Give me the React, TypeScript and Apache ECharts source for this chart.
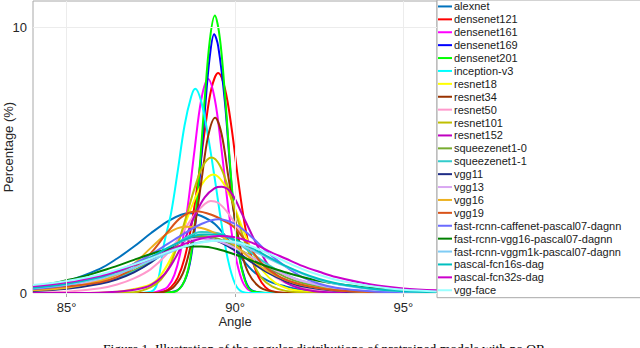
import React, { useEffect, useRef } from "react";
import * as echarts from "echarts";

const seriesNames = [
  "alexnet", "densenet121", "densenet161", "densenet169", "densenet201", "inception-v3",
  "resnet18", "resnet34", "resnet50", "resnet101", "resnet152", "squeezenet1-0",
  "squeezenet1-1", "vgg11", "vgg13", "vgg16", "vgg19", "fast-rcnn-caffenet-pascal07-dagnn",
  "fast-rcnn-vgg16-pascal07-dagnn", "fast-rcnn-vggm1k-pascal07-dagnn", "pascal-fcn16s-dag",
  "pascal-fcn32s-dag", "vgg-face",
];

const seriesColors = [
  "#0072BD", "#FF0000", "#FF00FF", "#0000FF", "#00FF00", "#00FFFF",
  "#FFFF00", "#993300", "#FF99CC", "#BFBF00", "#BF00BF", "#77AC30",
  "#33CCCC", "#1F2D86", "#D9A7F2", "#EDB120", "#D95319", "#6B6BFF",
  "#008000", "#7FCCF5", "#00BFBF", "#CC00CC", "#99FFFF",
];

const xTicks = [85, 90, 95];
const yTicks = [0, 10];

const alexnet = [[84,0.22],[85,0.45],[86,0.92],[86.5,1.3],[87,1.75],[87.5,2.25],[88,2.7],[88.4,2.95],[88.7,3.0],[89.0,2.9],[89.4,2.6],[89.8,2.0],[90.2,1.3],[90.6,0.75],[91,0.45],[91.5,0.25],[92,0.12],[93,0.04],[94,0.01],[96,0]];
const densenet121 = [[84,0],[87.5,0],[87.9,0.07],[88.1,0.22],[88.3,0.58],[88.5,1.3],[88.7,2.5],[88.9,4.2],[89.1,6.1],[89.3,7.7],[89.5,8.29],[89.7,7.7],[89.9,6.2],[90.1,4.2],[90.3,2.5],[90.5,1.3],[90.7,0.6],[90.9,0.22],[91.1,0.07],[91.5,0],[96,0]];
const densenet161 = [[84,0],[87.5,0],[87.8,0.1],[88.0,0.23],[88.2,0.68],[88.4,1.66],[88.6,3.3],[88.8,5.4],[89.0,7.3],[89.2,8.06],[89.4,7.3],[89.6,5.4],[89.8,3.2],[90.0,1.5],[90.2,0.5],[90.4,0.12],[90.7,0],[96,0]];
const densenet169 = [[84,0],[87.5,0],[88.2,0.06],[88.5,0.45],[88.7,1.4],[88.9,3.6],[89.1,6.8],[89.25,8.9],[89.38,9.75],[89.5,9.3],[89.7,7.2],[89.9,4.0],[90.1,1.6],[90.3,0.5],[90.5,0.1],[91,0],[96,0]];
const densenet201 = [[84,0],[87.5,0],[88.2,0.05],[88.5,0.46],[88.7,1.5],[88.9,3.9],[89.1,7.3],[89.25,9.5],[89.4,10.45],[89.55,9.6],[89.7,7.5],[89.9,4.1],[90.1,1.6],[90.3,0.45],[90.5,0.08],[91,0],[96,0]];
const inceptionV3 = [[84,0],[87.0,0],[87.5,0.05],[87.7,0.4],[87.9,1.9],[88.1,3.0],[88.3,4.6],[88.5,6.3],[88.7,7.4],[88.82,7.69],[89.0,7.2],[89.2,5.9],[89.4,4.3],[89.6,2.6],[89.8,1.2],[90.0,0.35],[90.2,0.05],[90.5,0],[96,0]];
const resnet18 = [[84,0],[85.5,0],[86.5,0.05],[87.0,0.15],[87.55,0.36],[87.85,0.77],[88.15,1.45],[88.45,2.37],[88.75,3.37],[89.05,4.16],[89.36,4.46],[89.65,4.15],[89.95,3.35],[90.25,2.35],[90.55,1.45],[90.85,0.8],[91.2,0.38],[91.6,0.15],[92.2,0.04],[93,0],[96,0]];
const resnet34 = [[84,0],[87.5,0],[87.9,0.05],[88.2,0.25],[88.5,0.9],[88.8,2.5],[89.0,4.2],[89.2,5.9],[89.41,6.6],[89.6,6.0],[89.8,4.4],[90.0,2.8],[90.2,1.5],[90.4,0.75],[90.7,0.25],[91.0,0.08],[91.5,0],[96,0]];
const resnet50 = [[84,0.02],[85,0.05],[86,0.18],[86.5,0.32],[87,0.55],[87.5,0.9],[88,1.5],[88.4,2.2],[88.8,2.95],[89.1,3.35],[89.28,3.47],[89.5,3.4],[89.8,3.0],[90.1,2.4],[90.4,1.75],[90.8,1.1],[91.2,0.6],[91.7,0.3],[92.5,0.1],[93.5,0.03],[95,0],[96,0]];
const resnet101 = [[84,0],[86,0],[87.0,0.03],[87.5,0.22],[87.8,0.51],[88.05,1.0],[88.3,1.84],[88.55,2.87],[88.8,3.95],[89.05,4.79],[89.3,5.1],[89.55,4.8],[89.8,3.95],[90.05,2.9],[90.3,1.9],[90.55,1.1],[90.8,0.55],[91.1,0.25],[91.5,0.08],[92.5,0],[96,0]];
const resnet152 = [[84,0],[85.5,0],[86.5,0.05],[87.0,0.12],[87.5,0.3],[87.9,0.7],[88.2,1.26],[88.5,2.0],[88.8,2.9],[89.1,3.6],[89.4,3.95],[89.61,4.0],[89.9,3.75],[90.2,3.0],[90.5,2.2],[90.8,1.45],[91.1,0.85],[91.5,0.4],[92.0,0.15],[92.5,0.05],[93.5,0],[96,0]];
const squeezenet10 = [[84,0.12],[85,0.22],[86,0.42],[86.5,0.6],[87,0.85],[87.5,1.2],[88,1.65],[88.5,2.0],[89,2.15],[89.5,2.05],[90,1.75],[90.5,1.35],[91,0.95],[91.5,0.6],[92,0.38],[93,0.14],[94,0.05],[96,0.01]];
const squeezenet11 = [[84,0.1],[85,0.2],[86,0.38],[86.5,0.55],[87,0.8],[87.5,1.15],[88,1.6],[88.5,2.05],[89,2.3],[89.5,2.25],[90,1.95],[90.5,1.5],[91,1.05],[91.5,0.7],[92,0.45],[93,0.17],[94,0.06],[96,0.01]];
const vgg11 = [[84,0.08],[85,0.16],[86,0.35],[86.5,0.52],[87,0.78],[87.5,1.15],[88,1.65],[88.5,1.98],[89,2.07],[89.5,1.95],[90,1.6],[90.5,1.15],[91,0.75],[91.5,0.45],[92,0.25],[93,0.08],[94,0.02],[96,0]];
const vgg13 = [[84,0.12],[85,0.24],[86,0.48],[86.5,0.68],[87,0.95],[87.5,1.3],[88,1.7],[88.5,1.98],[89,2.05],[89.5,1.95],[90,1.7],[90.5,1.35],[91,0.98],[91.5,0.68],[92,0.45],[93,0.18],[94,0.07],[96,0.01]];
const vgg16 = [[84,0.1],[85,0.2],[86,0.45],[86.5,0.7],[87,1.1],[87.5,1.7],[88,2.25],[88.5,2.5],[89,2.45],[89.5,2.2],[90,1.8],[90.5,1.25],[91,0.8],[91.5,0.5],[92,0.3],[93,0.1],[94,0.03],[96,0]];
const vgg19 = [[84,0.15],[85,0.25],[86,0.4],[86.5,0.6],[87,0.95],[87.5,1.5],[88,2.3],[88.4,2.85],[88.85,3.08],[89.3,2.95],[89.7,2.7],[90.0,2.45],[90.4,1.8],[90.8,1.1],[91.2,0.7],[91.6,0.45],[92.2,0.25],[93,0.1],[94,0.04],[96,0.01]];
const fastRcnnCaffenet = [[84,0.15],[85,0.3],[86,0.6],[87,1.1],[87.5,1.45],[88,1.85],[88.5,2.25],[89,2.6],[89.5,2.78],[90,2.6],[90.5,2.1],[91,1.5],[91.5,1.0],[92,0.6],[92.5,0.35],[93,0.2],[94,0.07],[95,0.02],[96,0.01]];
const fastRcnnVgg16 = [[84,0.25],[84.5,0.35],[85,0.48],[85.5,0.62],[86,0.82],[86.5,1.02],[87,1.25],[87.5,1.47],[88,1.65],[88.5,1.75],[89,1.75],[89.5,1.65],[90,1.45],[90.5,1.22],[91,0.98],[91.5,0.78],[92,0.6],[92.5,0.45],[93,0.35],[93.5,0.27],[94,0.2],[95,0.1],[96,0.05]];
const fastRcnnVggm1k = [[84,0.18],[85,0.32],[86,0.55],[86.5,0.72],[87,0.95],[87.5,1.22],[88,1.5],[88.5,1.75],[89,1.92],[89.5,1.98],[90,1.88],[90.5,1.62],[91,1.3],[91.5,1.0],[92,0.72],[92.5,0.5],[93,0.34],[94,0.15],[95,0.06],[96,0.03]];
const pascalFcn16s = [[84,0.2],[85,0.35],[86,0.6],[86.5,0.8],[87,1.05],[87.5,1.35],[88,1.7],[88.5,2.0],[89,2.2],[89.5,2.2],[90,2.0],[90.5,1.7],[91,1.35],[91.5,1.02],[92,0.75],[92.5,0.53],[93,0.37],[94,0.17],[95,0.07],[96,0.03]];
const pascalFcn32s = [[84,0.25],[85,0.4],[86,0.65],[86.5,0.82],[87,1.05],[87.5,1.3],[88,1.58],[88.5,1.85],[89,2.05],[89.5,2.15],[90,2.1],[90.5,1.9],[91,1.58],[91.5,1.3],[92,1.02],[92.5,0.8],[93,0.6],[94,0.33],[95,0.17],[96,0.1]];
const vggFace = [[84,0.3],[85,0.45],[86,0.7],[86.5,0.88],[87,1.08],[87.5,1.3],[88,1.55],[88.5,1.75],[89,1.9],[89.5,1.98],[90,1.92],[90.5,1.75],[91,1.48],[91.5,1.18],[92,0.9],[92.5,0.68],[93,0.5],[94,0.26],[95,0.12],[96,0.06]];

const seriesValues = [
  alexnet, densenet121, densenet161, densenet169, densenet201, inceptionV3,
  resnet18, resnet34, resnet50, resnet101, resnet152, squeezenet10,
  squeezenet11, vgg11, vgg13, vgg16, vgg19, fastRcnnCaffenet,
  fastRcnnVgg16, fastRcnnVggm1k, pascalFcn16s, pascalFcn32s, vggFace,
];

const caption = "Figure 1. Illustration of the angular distributions of pretrained models with no OR";

const FONT = "Liberation Sans, Arial, Helvetica, sans-serif";

export default function App() {
  const ref = useRef<HTMLDivElement>(null);
  useEffect(() => {
    if (!ref.current) return;
    const chart = echarts.init(ref.current, null, { renderer: "svg" });
    const axisColor = "#a8a8a8";
    const labelColor = "#262626";
    const xBase = {
      type: "value",
      min: 84,
      max: 96,
      interval: 1,
      axisLine: { show: false },
      splitLine: { show: false },
    };
    const yBase = {
      type: "value",
      min: 0,
      max: 11,
      interval: 10,
      axisLine: { show: false },
      splitLine: { show: false },
    };
    const option: any = {
      animation: false,
      backgroundColor: "#ffffff",
      grid: {
        left: 33, top: 1, width: 404, height: 292,
        containLabel: false,
        outerBoundsMode: "none",
        show: true, borderColor: axisColor, borderWidth: 1, backgroundColor: "transparent",
      },
      xAxis: [
        {
          ...xBase,
          position: "bottom",
          axisTick: { show: true, inside: true, length: 4, customValues: xTicks, lineStyle: { color: axisColor } },
          axisLabel: {
            customValues: xTicks,
            formatter: (v: number) => (xTicks.includes(v) ? v + "°" : ""),
            color: labelColor, fontSize: 13, fontFamily: FONT, margin: 8,
          },
          name: "Angle",
          nameLocation: "middle",
          nameGap: 22,
          nameMoveOverlap: false,
          nameTextStyle: { color: labelColor, fontSize: 13, fontFamily: FONT },
        },
        {
          ...xBase,
          position: "top",
          axisTick: { show: true, inside: true, length: 4, customValues: xTicks, lineStyle: { color: axisColor } },
          axisLabel: { show: false },
        },
      ],
      yAxis: [
        {
          ...yBase,
          position: "left",
          axisTick: { show: true, inside: true, length: 4, customValues: yTicks, lineStyle: { color: axisColor } },
          axisLabel: {
            customValues: yTicks,
            formatter: (v: number) => (yTicks.includes(v) ? String(v) : ""),
            color: labelColor, fontSize: 13, fontFamily: FONT, margin: 6,
          },
          name: "Percentage (%)",
          nameLocation: "middle",
          nameGap: 18,
          nameMoveOverlap: false,
          nameTextStyle: { color: labelColor, fontSize: 13, fontFamily: FONT },
        },
        {
          ...yBase,
          position: "right",
          axisTick: { show: true, inside: true, length: 4, customValues: yTicks, lineStyle: { color: axisColor } },
          axisLabel: { show: false },
        },
      ],
      legend: {
        data: seriesNames,
        orient: "vertical",
        left: 437,
        top: 0,
        padding: [0, 22, 1, 1],
        itemGap: 0,
        itemWidth: 14,
        itemHeight: 2,
        icon: "rect",
        backgroundColor: "#ffffff",
        borderColor: axisColor,
        borderWidth: 1,
        textStyle: { fontSize: 11, fontFamily: FONT, color: "#1a1a1a", lineHeight: 12.9, padding: [0, 0, 0, -3] },
      },
      series: [
        {
          type: "line",
          name: "__grid",
          data: [],
          z: 1,
          silent: true,
          markLine: {
            silent: true,
            symbol: "none",
            label: { show: false },
            lineStyle: { color: "#ececec", type: "solid", width: 1 },
            data: [
              ...xTicks.map((v) => ({ xAxis: v })),
              ...yTicks.map((v) => ({ yAxis: v })),
            ],
          },
        },
        ...seriesNames.map((name, i) => ({
          type: "line",
          name,
          data: seriesValues[i],
          showSymbol: false,
          symbol: "none",
          smooth: 0.35,
          z: 2,
          color: seriesColors[i],
          lineStyle: { width: 2, color: seriesColors[i] },
          itemStyle: { color: seriesColors[i] },
        })),
      ],
      graphic: [
        {
          type: "text",
          x: 324,
          y: 341,
          style: {
            text: caption,
            fill: "#000000",
            font: '13.5px "Liberation Serif", "Times New Roman", serif',
            textAlign: "center",
            textVerticalAlign: "top",
          },
        },
      ],
    };
    chart.setOption(option);
    return () => chart.dispose();
  }, []);
  return (
    <div
      ref={ref}
      style={{ position: "fixed", left: 0, top: 0, width: 640, height: 348, background: "#fff" }}
    />
  );
}
